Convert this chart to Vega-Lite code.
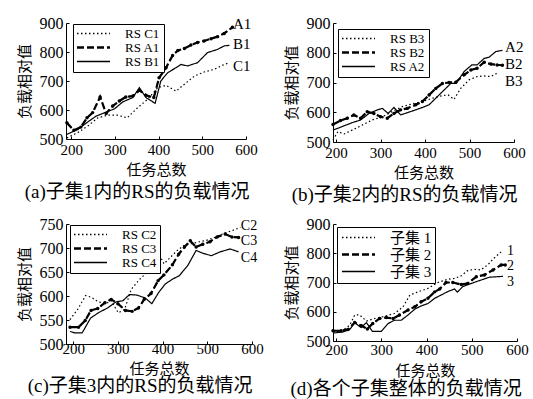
{
  "$schema": "https://vega.github.io/schema/vega-lite/v6.json",
  "padding": {"left": 17, "top": 15, "right": 0, "bottom": 0},
  "background": "white",
  "columns": 2,
  "spacing": {"row": 82, "column": 81},
  "bounds": "flush",
  "align": "none",
  "resolve": {"scale": {"strokeDash": "independent"}, "legend": {"strokeDash": "independent"}},
  "datasets": {
    "a": [
      {"s":"RS A1","x":190,"y":556},{"s":"RS A1","x":206,"y":530},{"s":"RS A1","x":222,"y":541},{"s":"RS A1","x":236,"y":573},{"s":"RS A1","x":249,"y":591},{"s":"RS A1","x":266,"y":645},{"s":"RS A1","x":280,"y":588},{"s":"RS A1","x":295,"y":614},{"s":"RS A1","x":310,"y":631},{"s":"RS A1","x":325,"y":645},{"s":"RS A1","x":341,"y":648},{"s":"RS A1","x":356,"y":668},{"s":"RS A1","x":371,"y":651},{"s":"RS A1","x":389,"y":643},{"s":"RS A1","x":401,"y":711},{"s":"RS A1","x":417,"y":746},{"s":"RS A1","x":432,"y":788},{"s":"RS A1","x":444,"y":805},{"s":"RS A1","x":459,"y":812},{"s":"RS A1","x":474,"y":824},{"s":"RS A1","x":489,"y":833},{"s":"RS A1","x":504,"y":838},{"s":"RS A1","x":520,"y":846},{"s":"RS A1","x":535,"y":853},{"s":"RS A1","x":550,"y":864},{"s":"RS A1","x":569,"y":885},
      {"s":"RS B1","x":190,"y":516},{"s":"RS B1","x":215,"y":533},{"s":"RS B1","x":238,"y":559},{"s":"RS B1","x":257,"y":579},{"s":"RS B1","x":280,"y":593},{"s":"RS B1","x":299,"y":604},{"s":"RS B1","x":318,"y":628},{"s":"RS B1","x":341,"y":643},{"s":"RS B1","x":356,"y":677},{"s":"RS B1","x":371,"y":643},{"s":"RS B1","x":392,"y":623},{"s":"RS B1","x":405,"y":700},{"s":"RS B1","x":421,"y":729},{"s":"RS B1","x":440,"y":746},{"s":"RS B1","x":451,"y":757},{"s":"RS B1","x":466,"y":752},{"s":"RS B1","x":489,"y":763},{"s":"RS B1","x":512,"y":798},{"s":"RS B1","x":535,"y":809},{"s":"RS B1","x":550,"y":821},{"s":"RS B1","x":562,"y":823},
      {"s":"RS C1","x":190,"y":504},{"s":"RS C1","x":215,"y":522},{"s":"RS C1","x":238,"y":545},{"s":"RS C1","x":261,"y":573},{"s":"RS C1","x":283,"y":582},{"s":"RS C1","x":306,"y":582},{"s":"RS C1","x":328,"y":573},{"s":"RS C1","x":352,"y":608},{"s":"RS C1","x":375,"y":637},{"s":"RS C1","x":398,"y":677},{"s":"RS C1","x":417,"y":685},{"s":"RS C1","x":440,"y":665},{"s":"RS C1","x":459,"y":689},{"s":"RS C1","x":482,"y":717},{"s":"RS C1","x":504,"y":731},{"s":"RS C1","x":527,"y":740},{"s":"RS C1","x":550,"y":757},{"s":"RS C1","x":562,"y":763}
    ],
    "la": [{"t":"A1","x":570,"y":895},{"t":"B1","x":570,"y":828},{"t":"C1","x":570,"y":752}],
    "b": [
      {"s":"RS A2","x":193,"y":540},{"s":"RS A2","x":214,"y":552},{"s":"RS A2","x":236,"y":565},{"s":"RS A2","x":255,"y":574},{"s":"RS A2","x":274,"y":596},{"s":"RS A2","x":293,"y":608},{"s":"RS A2","x":304,"y":613},{"s":"RS A2","x":317,"y":596},{"s":"RS A2","x":330,"y":616},{"s":"RS A2","x":345,"y":591},{"s":"RS A2","x":371,"y":604},{"s":"RS A2","x":394,"y":616},{"s":"RS A2","x":409,"y":625},{"s":"RS A2","x":424,"y":647},{"s":"RS A2","x":443,"y":675},{"s":"RS A2","x":458,"y":697},{"s":"RS A2","x":470,"y":697},{"s":"RS A2","x":488,"y":737},{"s":"RS A2","x":505,"y":759},{"s":"RS A2","x":517,"y":759},{"s":"RS A2","x":533,"y":781},{"s":"RS A2","x":544,"y":785},{"s":"RS A2","x":559,"y":804},{"s":"RS A2","x":574,"y":808},
      {"s":"RS B2","x":193,"y":559},{"s":"RS B2","x":210,"y":572},{"s":"RS B2","x":225,"y":580},{"s":"RS B2","x":240,"y":591},{"s":"RS B2","x":255,"y":580},{"s":"RS B2","x":270,"y":602},{"s":"RS B2","x":285,"y":596},{"s":"RS B2","x":300,"y":585},{"s":"RS B2","x":315,"y":580},{"s":"RS B2","x":330,"y":596},{"s":"RS B2","x":345,"y":608},{"s":"RS B2","x":360,"y":613},{"s":"RS B2","x":379,"y":625},{"s":"RS B2","x":394,"y":636},{"s":"RS B2","x":409,"y":658},{"s":"RS B2","x":424,"y":680},{"s":"RS B2","x":439,"y":697},{"s":"RS B2","x":454,"y":700},{"s":"RS B2","x":469,"y":701},{"s":"RS B2","x":488,"y":726},{"s":"RS B2","x":503,"y":742},{"s":"RS B2","x":517,"y":748},{"s":"RS B2","x":533,"y":768},{"s":"RS B2","x":548,"y":762},{"s":"RS B2","x":562,"y":759},{"s":"RS B2","x":574,"y":758},
      {"s":"RS B3","x":193,"y":507},{"s":"RS B3","x":204,"y":535},{"s":"RS B3","x":218,"y":527},{"s":"RS B3","x":236,"y":540},{"s":"RS B3","x":259,"y":557},{"s":"RS B3","x":281,"y":574},{"s":"RS B3","x":304,"y":585},{"s":"RS B3","x":326,"y":602},{"s":"RS B3","x":349,"y":619},{"s":"RS B3","x":371,"y":628},{"s":"RS B3","x":394,"y":636},{"s":"RS B3","x":416,"y":647},{"s":"RS B3","x":439,"y":656},{"s":"RS B3","x":452,"y":658},{"s":"RS B3","x":465,"y":643},{"s":"RS B3","x":480,"y":680},{"s":"RS B3","x":499,"y":709},{"s":"RS B3","x":517,"y":720},{"s":"RS B3","x":533,"y":722},{"s":"RS B3","x":548,"y":720},{"s":"RS B3","x":563,"y":732}
    ],
    "lb": [{"t":"A2","x":580,"y":818},{"t":"B2","x":580,"y":761},{"t":"B3","x":580,"y":705}],
    "c": [
      {"s":"RS C2","x":193,"y":551},{"s":"RS C2","x":210,"y":572},{"s":"RS C2","x":228,"y":601},{"s":"RS C2","x":241,"y":597},{"s":"RS C2","x":256,"y":588},{"s":"RS C2","x":273,"y":584},{"s":"RS C2","x":285,"y":590},{"s":"RS C2","x":301,"y":565},{"s":"RS C2","x":315,"y":572},{"s":"RS C2","x":330,"y":614},{"s":"RS C2","x":349,"y":635},{"s":"RS C2","x":370,"y":653},{"s":"RS C2","x":388,"y":695},{"s":"RS C2","x":403,"y":667},{"s":"RS C2","x":418,"y":681},{"s":"RS C2","x":433,"y":695},{"s":"RS C2","x":449,"y":706},{"s":"RS C2","x":464,"y":709},{"s":"RS C2","x":483,"y":713},{"s":"RS C2","x":498,"y":716},{"s":"RS C2","x":517,"y":722},{"s":"RS C2","x":536,"y":730},{"s":"RS C2","x":555,"y":736},{"s":"RS C2","x":574,"y":743},
      {"s":"RS C3","x":193,"y":535},{"s":"RS C3","x":212,"y":535},{"s":"RS C3","x":227,"y":549},{"s":"RS C3","x":240,"y":570},{"s":"RS C3","x":255,"y":574},{"s":"RS C3","x":271,"y":586},{"s":"RS C3","x":285,"y":593},{"s":"RS C3","x":300,"y":584},{"s":"RS C3","x":317,"y":570},{"s":"RS C3","x":332,"y":568},{"s":"RS C3","x":346,"y":575},{"s":"RS C3","x":359,"y":593},{"s":"RS C3","x":374,"y":605},{"s":"RS C3","x":390,"y":632},{"s":"RS C3","x":403,"y":644},{"s":"RS C3","x":422,"y":665},{"s":"RS C3","x":436,"y":687},{"s":"RS C3","x":449,"y":702},{"s":"RS C3","x":462,"y":715},{"s":"RS C3","x":475,"y":702},{"s":"RS C3","x":490,"y":708},{"s":"RS C3","x":506,"y":713},{"s":"RS C3","x":522,"y":723},{"s":"RS C3","x":540,"y":729},{"s":"RS C3","x":555,"y":723},{"s":"RS C3","x":570,"y":722},
      {"s":"RS C4","x":193,"y":526},{"s":"RS C4","x":205,"y":523},{"s":"RS C4","x":220,"y":523},{"s":"RS C4","x":239,"y":554},{"s":"RS C4","x":258,"y":566},{"s":"RS C4","x":277,"y":575},{"s":"RS C4","x":296,"y":588},{"s":"RS C4","x":311,"y":590},{"s":"RS C4","x":326,"y":603},{"s":"RS C4","x":342,"y":602},{"s":"RS C4","x":361,"y":596},{"s":"RS C4","x":376,"y":584},{"s":"RS C4","x":391,"y":607},{"s":"RS C4","x":406,"y":625},{"s":"RS C4","x":422,"y":635},{"s":"RS C4","x":437,"y":642},{"s":"RS C4","x":456,"y":663},{"s":"RS C4","x":475,"y":695},{"s":"RS C4","x":490,"y":689},{"s":"RS C4","x":509,"y":684},{"s":"RS C4","x":529,"y":692},{"s":"RS C4","x":551,"y":698},{"s":"RS C4","x":570,"y":692}
    ],
    "lc": [{"t":"C2","x":575,"y":746},{"t":"C3","x":575,"y":715},{"t":"C4","x":575,"y":679}],
    "d": [
      {"s":"子集 1","x":193,"y":531},{"s":"子集 1","x":215,"y":537},{"s":"子集 1","x":230,"y":554},{"s":"子集 1","x":241,"y":589},{"s":"子集 1","x":252,"y":589},{"s":"子集 1","x":267,"y":568},{"s":"子集 1","x":285,"y":577},{"s":"子集 1","x":303,"y":583},{"s":"子集 1","x":329,"y":594},{"s":"子集 1","x":348,"y":617},{"s":"子集 1","x":363,"y":657},{"s":"子集 1","x":381,"y":668},{"s":"子集 1","x":403,"y":680},{"s":"子集 1","x":425,"y":700},{"s":"子集 1","x":447,"y":711},{"s":"子集 1","x":461,"y":714},{"s":"子集 1","x":476,"y":722},{"s":"子集 1","x":490,"y":740},{"s":"子集 1","x":505,"y":745},{"s":"子集 1","x":520,"y":743},{"s":"子集 1","x":535,"y":760},{"s":"子集 1","x":549,"y":783},{"s":"子集 1","x":565,"y":805},
      {"s":"子集 2","x":193,"y":535},{"s":"子集 2","x":211,"y":535},{"s":"子集 2","x":226,"y":539},{"s":"子集 2","x":241,"y":563},{"s":"子集 2","x":256,"y":552},{"s":"子集 2","x":269,"y":541},{"s":"子集 2","x":281,"y":560},{"s":"子集 2","x":296,"y":577},{"s":"子集 2","x":311,"y":580},{"s":"子集 2","x":326,"y":577},{"s":"子集 2","x":340,"y":589},{"s":"子集 2","x":359,"y":606},{"s":"子集 2","x":374,"y":617},{"s":"子集 2","x":388,"y":634},{"s":"子集 2","x":403,"y":646},{"s":"子集 2","x":418,"y":668},{"s":"子集 2","x":429,"y":678},{"s":"子集 2","x":443,"y":700},{"s":"子集 2","x":458,"y":700},{"s":"子集 2","x":477,"y":693},{"s":"子集 2","x":491,"y":697},{"s":"子集 2","x":510,"y":720},{"s":"子集 2","x":528,"y":726},{"s":"子集 2","x":547,"y":743},{"s":"子集 2","x":565,"y":760},{"s":"子集 2","x":574,"y":760},
      {"s":"子集 3","x":193,"y":527},{"s":"子集 3","x":215,"y":531},{"s":"子集 3","x":230,"y":539},{"s":"子集 3","x":241,"y":563},{"s":"子集 3","x":255,"y":546},{"s":"子集 3","x":267,"y":563},{"s":"子集 3","x":280,"y":533},{"s":"子集 3","x":300,"y":533},{"s":"子集 3","x":315,"y":560},{"s":"子集 3","x":329,"y":571},{"s":"子集 3","x":344,"y":571},{"s":"子集 3","x":359,"y":589},{"s":"子集 3","x":374,"y":609},{"s":"子集 3","x":388,"y":620},{"s":"子集 3","x":403,"y":628},{"s":"子集 3","x":418,"y":646},{"s":"子集 3","x":432,"y":657},{"s":"子集 3","x":447,"y":669},{"s":"子集 3","x":462,"y":678},{"s":"子集 3","x":468,"y":667},{"s":"子集 3","x":480,"y":686},{"s":"子集 3","x":510,"y":703},{"s":"子集 3","x":539,"y":718},{"s":"子集 3","x":569,"y":721}
    ],
    "ld": [{"t":"1","x":578,"y":806},{"t":"2","x":578,"y":755},{"t":"3","x":578,"y":703}]
  },
  "concat": [
    {
      "width": 180, "height": 116,
      "title": {"text": "(a)子集1内的RS的负载情况"},
      "encoding": {
        "x": {"field": "x", "type": "quantitative", "scale": {"domain": [188, 600], "nice": false, "zero": false}, "axis": {"title": "任务总数", "values": [200, 300, 400, 500, 600]}},
        "y": {"field": "y", "type": "quantitative", "scale": {"domain": [500, 900], "nice": false, "zero": false}, "axis": {"title": "负载相对值", "values": [500, 600, 700, 800, 900]}}
      },
      "layer": [
        {"data": {"name": "a"}, "mark": {"type": "line", "color": "black", "strokeWidth": 1.2},
         "encoding": {"strokeDash": {"field": "s", "type": "nominal", "scale": {"domain": ["RS C1", "RS A1", "RS B1"], "range": [[1.5, 2.5], [7, 3], [1, 0]]},
           "legend": {"title": null, "legendX": 7, "legendY": 1, "encode": {"symbols": {"update": {"strokeWidth": {"signal": "datum.value == 'RS A1' ? 2.4 : 1.3"}}}}}}}},
        {"data": {"name": "a"}, "transform": [{"filter": "datum.s == 'RS A1'"}], "mark": {"type": "line", "color": "black", "strokeWidth": 2.2, "strokeDash": [7, 3]}},
        {"data": {"name": "a"}, "transform": [{"filter": "datum.s == 'RS A1'"}], "mark": {"type": "point", "filled": true, "color": "black", "size": 12, "opacity": 1}},
        {"data": {"name": "la"}, "mark": {"type": "text", "align": "left", "baseline": "middle", "font": "Liberation Serif", "fontSize": 15, "color": "black"},
         "encoding": {"text": {"field": "t"}}}
      ]
    },
    {
      "width": 181, "height": 119,
      "title": {"text": "(b)子集2内的RS的负载情况"},
      "encoding": {
        "x": {"field": "x", "type": "quantitative", "scale": {"domain": [193, 600], "nice": false, "zero": false}, "axis": {"title": "任务总数", "values": [200, 300, 400, 500, 600]}},
        "y": {"field": "y", "type": "quantitative", "scale": {"domain": [500, 900], "nice": false, "zero": false}, "axis": {"title": "负载相对值", "values": [500, 600, 700, 800, 900]}}
      },
      "layer": [
        {"data": {"name": "b"}, "mark": {"type": "line", "color": "black", "strokeWidth": 1.2},
         "encoding": {"strokeDash": {"field": "s", "type": "nominal", "scale": {"domain": ["RS B3", "RS B2", "RS A2"], "range": [[1.5, 2.5], [7, 3], [1, 0]]},
           "legend": {"title": null, "legendX": 5, "legendY": 6, "encode": {"symbols": {"update": {"strokeWidth": {"signal": "datum.value == 'RS B2' ? 2.4 : 1.3"}}}}}}}},
        {"data": {"name": "b"}, "transform": [{"filter": "datum.s == 'RS B2'"}], "mark": {"type": "line", "color": "black", "strokeWidth": 2.2, "strokeDash": [7, 3]}},
        {"data": {"name": "b"}, "transform": [{"filter": "datum.s == 'RS B2'"}], "mark": {"type": "point", "filled": true, "color": "black", "size": 12, "opacity": 1}},
        {"data": {"name": "lb"}, "mark": {"type": "text", "align": "left", "baseline": "middle", "font": "Liberation Serif", "fontSize": 15, "color": "black"},
         "encoding": {"text": {"field": "t"}}}
      ]
    },
    {
      "width": 186, "height": 120,
      "title": {"text": "(c)子集3内的RS的负载情况", "offset": 1},
      "encoding": {
        "x": {"field": "x", "type": "quantitative", "scale": {"domain": [184, 600], "nice": false, "zero": false}, "axis": {"title": "任务总数", "values": [200, 300, 400, 500, 600], "labelPadding": 0, "titlePadding": 5}},
        "y": {"field": "y", "type": "quantitative", "scale": {"domain": [500, 750], "nice": false, "zero": false}, "axis": {"title": "负载相对值", "values": [500, 550, 600, 650, 700, 750]}}
      },
      "layer": [
        {"data": {"name": "c"}, "mark": {"type": "line", "color": "black", "strokeWidth": 1.2},
         "encoding": {"strokeDash": {"field": "s", "type": "nominal", "scale": {"domain": ["RS C2", "RS C3", "RS C4"], "range": [[1.5, 2.5], [7, 3], [1, 0]]},
           "legend": {"title": null, "legendX": 4, "legendY": 1, "encode": {"symbols": {"update": {"strokeWidth": {"signal": "datum.value == 'RS C3' ? 2.4 : 1.3"}}}}}}}},
        {"data": {"name": "c"}, "transform": [{"filter": "datum.s == 'RS C3'"}], "mark": {"type": "line", "color": "black", "strokeWidth": 2.2, "strokeDash": [7, 3]}},
        {"data": {"name": "c"}, "transform": [{"filter": "datum.s == 'RS C3'"}], "mark": {"type": "point", "filled": true, "color": "black", "size": 12, "opacity": 1}},
        {"data": {"name": "lc"}, "mark": {"type": "text", "align": "left", "baseline": "middle", "font": "Liberation Serif", "fontSize": 14, "color": "black"},
         "encoding": {"text": {"field": "t"}}}
      ]
    },
    {
      "width": 184, "height": 117,
      "title": {"text": "(d)各个子集整体的负载情况", "offset": 2},
      "encoding": {
        "x": {"field": "x", "type": "quantitative", "scale": {"domain": [193, 600], "nice": false, "zero": false}, "axis": {"title": "任务总数", "values": [200, 300, 400, 500, 600], "labelPadding": 4, "titlePadding": 6}},
        "y": {"field": "y", "type": "quantitative", "scale": {"domain": [500, 900], "nice": false, "zero": false}, "axis": {"title": "负载相对值", "values": [500, 600, 700, 800, 900]}}
      },
      "layer": [
        {"data": {"name": "d"}, "mark": {"type": "line", "color": "black", "strokeWidth": 1.2},
         "encoding": {"strokeDash": {"field": "s", "type": "nominal", "scale": {"domain": ["子集 1", "子集 2", "子集 3"], "range": [[1.5, 2.5], [7, 3], [1, 0]]},
           "legend": {"title": null, "legendX": 4, "legendY": 3, "labelFont": "Liberation Serif, Noto Sans CJK SC", "labelFontSize": 15, "labelOffset": 35, "rowPadding": 1,
             "encode": {"symbols": {"update": {"strokeWidth": {"signal": "datum.value == '子集 2' ? 2.4 : 1.3"}}}}}}}},
        {"data": {"name": "d"}, "transform": [{"filter": "datum.s == '子集 2'"}], "mark": {"type": "line", "color": "black", "strokeWidth": 2.2, "strokeDash": [7, 3]}},
        {"data": {"name": "d"}, "transform": [{"filter": "datum.s == '子集 2'"}], "mark": {"type": "point", "filled": true, "color": "black", "size": 12, "opacity": 1}},
        {"data": {"name": "ld"}, "mark": {"type": "text", "align": "left", "baseline": "middle", "font": "Liberation Serif", "fontSize": 14, "color": "black"},
         "encoding": {"text": {"field": "t"}}}
      ]
    }
  ],
  "config": {
    "view": {"stroke": null},
    "axis": {"grid": false, "domainColor": "black", "tickColor": "black", "labelColor": "black", "titleColor": "black", "labelFont": "Liberation Serif", "labelFontSize": 15, "titleFont": "Noto Sans CJK SC", "titleFontSize": 15, "titleFontWeight": "normal", "tickSize": -3, "labelPadding": 6, "labelFlush": false, "labelOverlap": false},
    "axisX": {"titlePadding": 5},
    "axisY": {"titlePadding": 7, "labelFontSize": 16},
    "legend": {"orient": "none", "symbolType": "M-1,0H5", "symbolSize": 121, "symbolStrokeColor": "black", "symbolStrokeWidth": 1.3, "strokeColor": "black", "fillColor": "white", "padding": 3, "labelFont": "Liberation Serif", "labelFontSize": 13, "labelColor": "black", "labelOffset": 36, "rowPadding": -8, "labelLimit": 200},
    "title": {"orient": "bottom", "frame": "bounds", "font": "Liberation Serif, Noto Sans CJK SC", "fontSize": 19, "fontWeight": "normal", "offset": 6, "anchor": "middle", "color": "black"}
  }
}
